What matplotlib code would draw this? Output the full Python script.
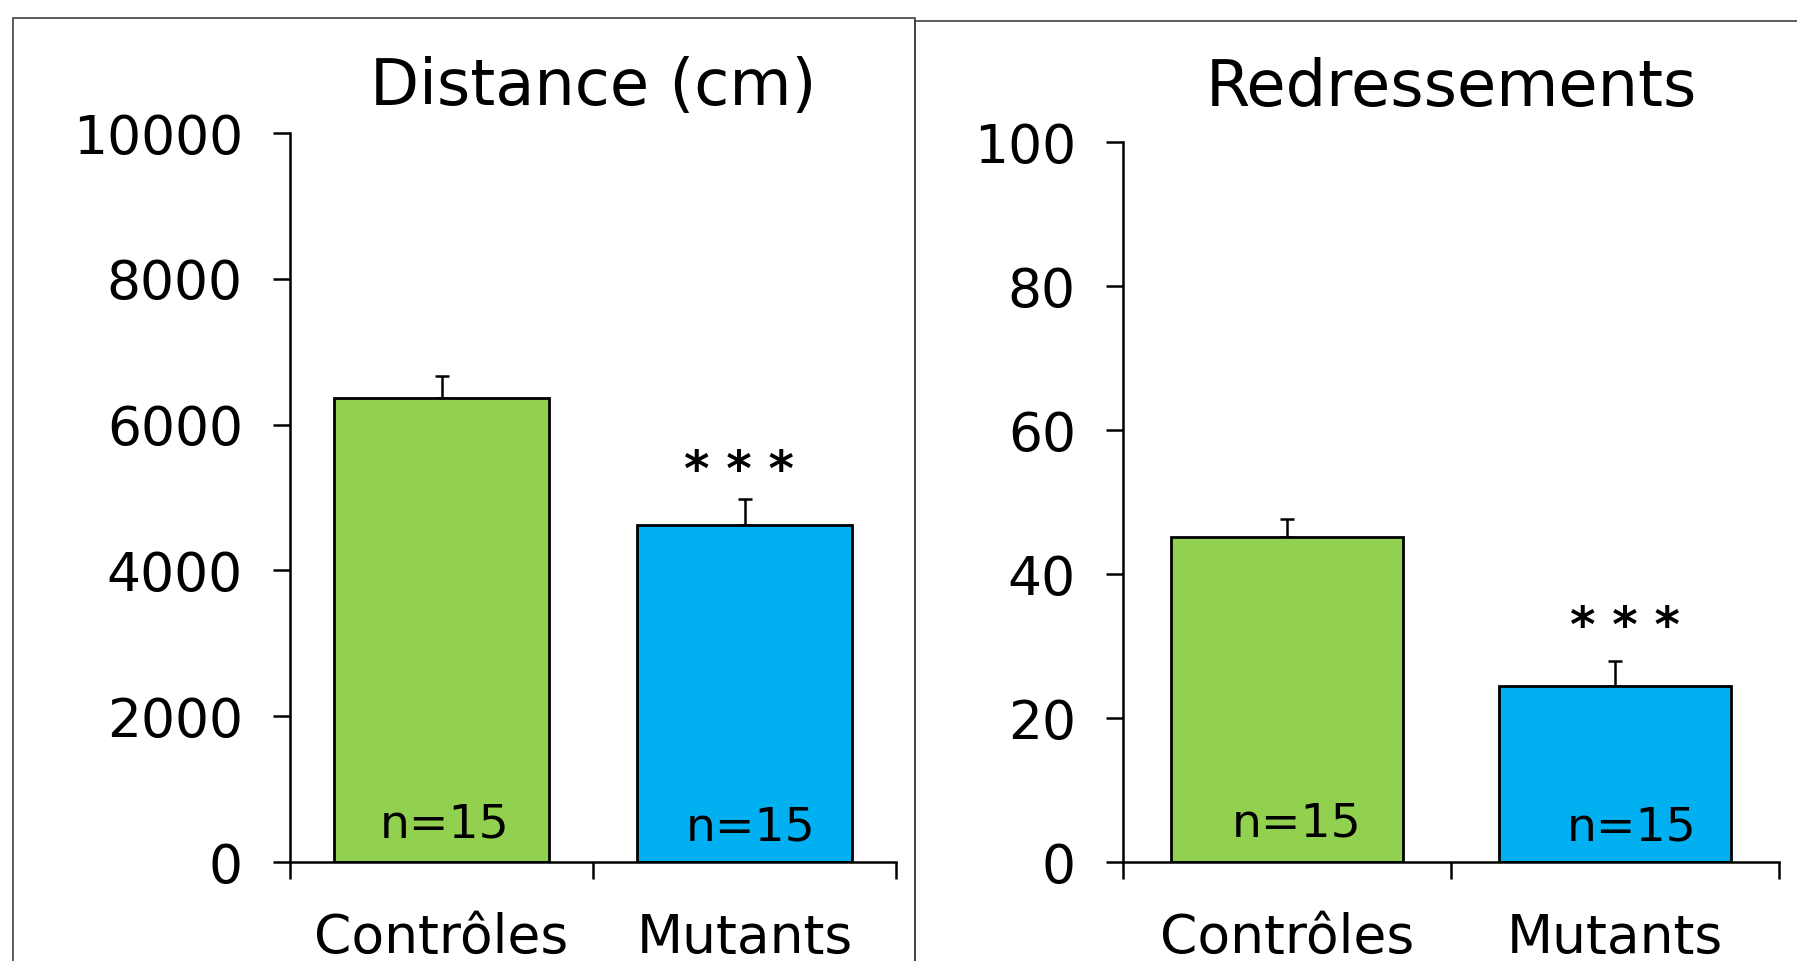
import matplotlib
matplotlib.use("Agg")
import matplotlib.pyplot as plt
from matplotlib.patches import Rectangle

plt.rcParams['font.family'] = ['DejaVu Sans']

groups = ["Contrôles", "Mutants"]
colors = ["#92D050", "#00B0F0"]
n_labels = ["n=15", "n=15"]

dist_mean = [6370, 4620]
dist_err = [300, 360]
rear_mean = [45.1, 24.4]
rear_err = [2.5, 3.5]

fig = plt.figure(figsize=(17.97, 9.61), dpi=100)

# panel frames
fig.patches.append(Rectangle((13 / 1797, -0.1), (915 - 13) / 1797, 0.1 + 1 - 18 / 961,
                             transform=fig.transFigure, fill=False, ec="#404040", lw=1.2))
fig.patches.append(Rectangle((915 / 1797, -0.1), 0.6, 0.1 + 1 - 21 / 961,
                             transform=fig.transFigure, fill=False, ec="#404040", lw=1.2))

axL = fig.add_axes([290 / 1797, 1 - 862 / 961, (896 - 290) / 1797, (862 - 133) / 961])
axR = fig.add_axes([1123 / 1797, 1 - 862 / 961, (1779 - 1123) / 1797, (862 - 142) / 961])


def panel(ax, means, errs, ymax, step, title, title_y, n_pos, star_pos):
    xs = [0.5, 1.5]
    ax.bar(xs, means, width=0.71, color=colors, edgecolor="black", linewidth=2, zorder=2)
    ax.errorbar(xs, means, yerr=[[0, 0], errs], fmt="none", ecolor="black",
                elinewidth=1.8, capsize=5, capthick=1.8, zorder=1)
    ax.set_xlim(0, 2)
    ax.set_ylim(0, ymax)
    ax.set_yticks(range(0, ymax + 1, step))
    ax.set_xticks([0, 1, 2])
    ax.set_xticklabels([])
    ax.set_xticks(xs, minor=True)
    ax.set_xticklabels(groups, minor=True)
    ax.tick_params(axis="x", which="minor", length=0, pad=36, labelsize=38.5)
    ax.tick_params(axis="x", which="major", length=12, width=1.8, direction="out")
    ax.tick_params(axis="y", length=12, width=1.8, pad=22, labelsize=38.5)
    for s in ["top", "right"]:
        ax.spines[s].set_visible(False)
    for s in ["left", "bottom"]:
        ax.spines[s].set_linewidth(1.8)
    ax.text(0.5, title_y, title, transform=ax.transAxes, ha="center", va="baseline", fontsize=46)
    for (x, yfrac), lab in zip(n_pos, n_labels):
        ax.text(x, yfrac, lab, transform=ax.get_xaxis_transform(), ha="center",
                va="baseline", fontsize=34, zorder=3)
    ax.text(star_pos[0], star_pos[1], "* * *", ha="center", va="center", fontsize=35,
            fontweight="bold")


panel(axL, dist_mean, dist_err, 10000, 2000, "Distance (cm)", 1.038,
      [(0.51, 0.033), (1.52, 0.03)], (1.48, 5350))
panel(axR, rear_mean, rear_err, 100, 20, "Redressements", 1.05,
      [(0.53, 0.036), (1.55, 0.03)], (1.53, 32.5))

fig.savefig("out.png", dpi=100)
